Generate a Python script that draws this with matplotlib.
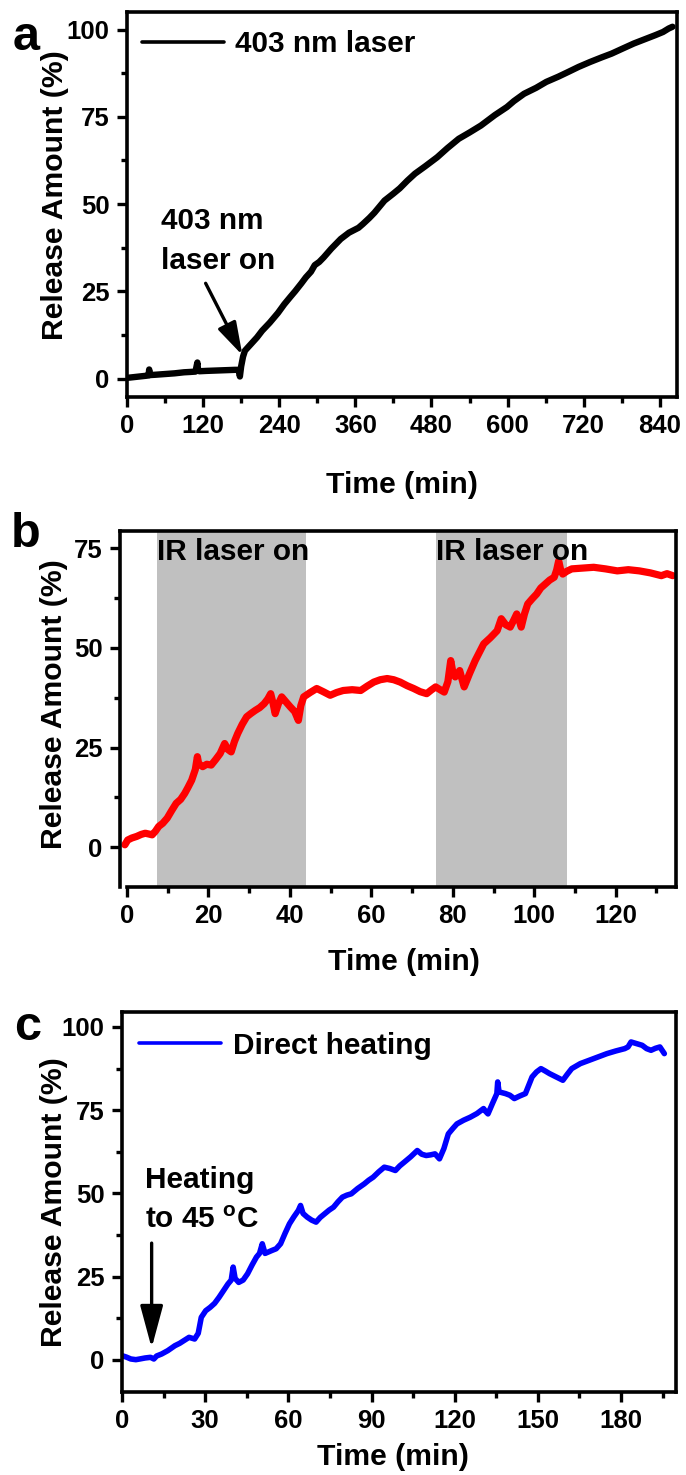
import matplotlib
matplotlib.use("Agg")
import matplotlib.pyplot as plt
from matplotlib.ticker import MultipleLocator

plt.rcParams["font.family"] = ["Liberation Sans", "DejaVu Sans"]
plt.rcParams["font.weight"] = "bold"
plt.rcParams["mathtext.fontset"] = "custom"
plt.rcParams["mathtext.rm"] = "Liberation Sans:bold"
plt.rcParams["mathtext.bf"] = "Liberation Sans:bold"
plt.rcParams["mathtext.it"] = "Liberation Sans:bold"

# ---- (a) 403 nm laser triggered release ----
time_a = [0, 10, 20, 30, 34, 35, 36, 45, 60, 75, 90, 100, 108, 110, 111, 112,
          114, 125, 140, 155, 170, 176, 178, 180, 183, 186, 195, 205, 213, 225,
          238, 248, 258, 265, 275, 282, 290, 296, 303, 310, 322, 337, 350, 365,
          372, 382, 390, 406, 420, 430, 442, 454, 470, 489, 505, 523, 540, 558,
          580, 599, 610, 626, 645, 661, 680, 695, 712, 730, 748, 764, 782, 799,
          816, 833, 845, 854, 860]
release_a = [0.2, 0.4, 0.6, 0.8, 0.9, 2.6, 1.0, 1.1, 1.3, 1.5, 1.8, 1.9, 2.0,
             3.8, 4.6, 2.6, 2.1, 2.2, 2.3, 2.4, 2.5, 2.5, 0.6, 3.5, 6.3, 8.0,
             9.8, 11.8, 13.7, 16.0, 18.8, 21.3, 23.5, 25.0, 27.3, 29.0, 30.6,
             32.5, 33.4, 34.7, 37.2, 40.0, 41.8, 43.2, 44.3, 46.0, 47.5, 51.0,
             53.0, 54.5, 56.7, 58.7, 60.8, 63.4, 66.0, 68.7, 70.5, 72.5, 75.5,
             77.8, 79.5, 81.6, 83.3, 85.0, 86.5, 87.8, 89.3, 90.7, 92.0, 93.1,
             94.6, 96.0, 97.2, 98.4, 99.3, 100.3, 100.8]

# ---- (b) pulsed IR laser release ----
time_b = [-0.5, 0.2, 1.2, 2.4, 3.5, 4.5, 5.4, 6.2, 7.0, 7.8, 8.8, 9.9, 11.0,
          12.1, 13.2, 14.2, 15.0, 15.9, 16.8, 17.3, 17.6, 18.6, 19.6, 20.7,
          21.8, 22.9, 24.0, 24.8, 25.6, 26.4, 27.2, 28.3, 29.4, 30.4, 31.5,
          32.6, 33.7, 34.6, 35.3, 35.9, 36.4, 37.2, 38.0, 39.0, 40.1, 41.2,
          42.1, 42.7, 43.4, 45.0, 46.6, 48.2, 49.9, 51.5, 53.1, 55.3, 57.4,
          59.0, 60.6, 62.2, 63.9, 65.5, 67.1, 68.8, 70.4, 72.0, 73.6, 74.7,
          75.8, 76.9, 77.9, 78.8, 79.5, 80.0, 80.6, 81.2, 81.7, 82.3, 82.8,
          84.1, 85.5, 86.5, 87.6, 89.2, 90.9, 91.9, 93.0, 94.1, 95.0, 95.7,
          96.3, 96.8, 97.6, 98.4, 99.5, 100.6, 101.6, 102.7, 103.8, 104.9,
          105.5, 106.0, 106.5, 107.0, 108.0, 109.2, 111.9, 114.6, 117.5,
          120.4, 123.1, 125.8, 128.5, 131.2, 132.6, 134.0]
release_b = [0.6, 1.8, 2.3, 2.7, 3.2, 3.5, 3.3, 3.1, 4.0, 5.2, 6.0, 7.3, 9.2,
             11.0, 12.0, 13.5, 15.0, 16.8, 19.5, 22.7, 21.0, 20.2, 20.8, 20.6,
             22.0, 23.5, 26.0, 24.5, 23.9, 26.5, 28.5, 30.8, 32.7, 33.5, 34.3,
             35.0, 36.0, 37.2, 38.5, 36.0, 33.5, 36.0, 37.7, 36.5, 35.2, 34.0,
             31.8, 35.5, 37.7, 38.8, 39.8, 39.0, 38.1, 38.8, 39.3, 39.5, 39.3,
             40.4, 41.4, 42.0, 42.3, 42.0, 41.4, 40.5, 39.8, 39.0, 38.5, 39.4,
             40.2, 39.5, 38.9, 41.5, 46.8, 44.0, 42.7, 43.5, 44.3, 42.0, 40.2,
             43.5, 46.8, 48.8, 51.0, 52.5, 54.3, 57.3, 55.8, 55.2, 57.0, 58.5,
             57.0, 55.2, 58.5, 61.0, 62.3, 63.5, 65.0, 66.0, 67.0, 67.7, 69.5,
             71.8, 69.5, 68.5, 69.2, 69.8, 70.0, 70.2, 69.8, 69.3, 69.6, 69.3,
             68.8, 68.1, 68.6, 68.1]

# IR laser irradiation windows (min)
laser_on = [7.5, 76.0]
laser_off = [44.0, 108.0]

# ---- (c) direct heating release ----
time_c = [0, 1.5, 3.2, 5.0, 6.4, 8.3, 10.3, 11.5, 12.5, 14.3, 16.5, 19.1,
          20.8, 22.3, 24.2, 26.2, 27.5, 28.6, 30.2, 31.8, 33.4, 35.0, 36.6,
          38.2, 39.4, 40.1, 40.8, 42.1, 43.7, 45.3, 46.9, 48.5, 49.6, 50.6,
          51.6, 54.1, 55.6, 57.2, 58.8, 60.4, 62.0, 63.6, 64.4, 65.3, 66.8,
          68.4, 70.0, 71.5, 73.1, 74.7, 76.3, 77.9, 79.5, 81.1, 82.7, 85.0,
          87.4, 89.0, 90.6, 92.6, 94.6, 96.6, 98.6, 100.2, 101.8, 104.1,
          106.5, 108.1, 109.7, 111.3, 112.9, 114.5, 116.1, 117.7, 119.3,
          120.8, 123.2, 125.6, 128.0, 130.4, 131.2, 132.0, 133.6, 135.2,
          135.5, 136.0, 138.3, 139.9, 141.5, 143.5, 145.5, 146.7, 147.9,
          149.5, 151.1, 152.6, 154.2, 156.6, 159.0, 160.6, 162.2, 165.3,
          168.5, 171.7, 174.9, 178.1, 181.3, 182.5, 183.6, 185.6, 187.6,
          189.2, 190.8, 192.4, 194.0, 195.6]
release_c = [1.3, 0.9, 0.3, 0.1, 0.3, 0.6, 0.8, 0.3, 1.2, 1.8, 2.8, 4.3, 5.0,
             5.8, 6.8, 6.3, 8.0, 12.8, 14.8, 15.8, 17.0, 18.8, 20.8, 22.8,
             24.0, 27.9, 24.5, 23.3, 24.0, 25.9, 28.5, 30.9, 32.0, 34.9, 32.0,
             32.9, 33.4, 34.9, 38.0, 40.9, 43.0, 44.9, 46.4, 44.0, 42.9, 42.0,
             41.4, 42.8, 43.9, 45.0, 45.9, 47.5, 48.9, 49.5, 49.9, 51.5, 52.9,
             54.0, 54.9, 56.5, 57.9, 57.5, 56.9, 58.3, 59.4, 61.0, 62.9, 61.8,
             61.4, 61.6, 61.9, 60.4, 63.5, 67.9, 69.5, 70.9, 72.0, 72.9, 74.0,
             75.5, 74.6, 73.9, 77.0, 80.0, 83.5, 80.5, 80.0, 79.5, 78.5, 79.3,
             80.0, 82.5, 85.0, 86.5, 87.5, 86.8, 86.0, 85.0, 84.0, 85.8, 87.5,
             89.0, 90.0, 91.0, 92.0, 92.8, 93.5, 94.0, 95.5, 95.0, 94.5, 93.5,
             93.0, 93.6, 94.0, 92.0]

label_x = "Time (min)"
label_y = "Release Amount (%)"

LABEL_FS = 21.7
TEXT_FS = 21.4
TICK_FS = 18.5
SPINE_LW = 2.6

fig = plt.figure(figsize=(6.86, 14.75), dpi=100)

ax_a = fig.add_axes([0.1851, 0.7308, 0.8017, 0.2610])
ax_b = fig.add_axes([0.1749, 0.3986, 0.8105, 0.2414])
ax_c = fig.add_axes([0.1778, 0.0563, 0.8076, 0.2576])


def style_axes(ax, xmajor, xminor, ymajor, yminor):
    for side in ("top", "right", "bottom", "left"):
        ax.spines[side].set_linewidth(SPINE_LW)
    ax.xaxis.set_major_locator(MultipleLocator(xmajor))
    ax.xaxis.set_minor_locator(MultipleLocator(xminor))
    ax.yaxis.set_major_locator(MultipleLocator(ymajor))
    ax.yaxis.set_minor_locator(MultipleLocator(yminor))
    ax.tick_params(which="both", direction="out", top=False, right=False,
                   width=2.4)
    ax.tick_params(which="major", length=7.5, labelsize=TICK_FS, pad=5)
    ax.tick_params(which="minor", length=4)
    for lab in ax.get_xticklabels() + ax.get_yticklabels():
        lab.set_fontweight("bold")
    ax.set_xlabel(label_x, fontsize=LABEL_FS, fontweight="bold")
    ax.set_ylabel(label_y, fontsize=LABEL_FS, fontweight="bold")
    ax.xaxis.label.set_va("center")
    ax.yaxis.label.set_va("center")
    ax.yaxis.label.set_ha("center")


# panel a
ax_a.plot(time_a, release_a, color="black", lw=4.6, solid_joinstyle="round",
          solid_capstyle="round", label="403 nm laser")
ax_a.set_xlim(0, 867)
ax_a.set_ylim(-5.3, 105)
style_axes(ax_a, 120, 60, 25, 12.5)
ax_a.xaxis.set_label_coords(0.5, -0.229)
ax_a.yaxis.set_label_coords(-0.131, 0.525)
leg = ax_a.legend(loc="center left", bbox_to_anchor=(0.027, 0.917),
                  frameon=False, handlelength=2.75, handletextpad=0.4,
                  borderpad=0, borderaxespad=0,
                  prop={"size": TEXT_FS, "weight": "bold"})
leg.get_lines()[0].set_linewidth(2.6)
ax_a.text(53, 31.3, "403 nm\nlaser on", fontsize=TEXT_FS, fontweight="bold",
          ha="left", va="baseline", linespacing=1.55)
ax_a.annotate("", xy=(182, 6.7), xytext=(124, 27.3),
              arrowprops=dict(arrowstyle="-|>,head_length=1.0,head_width=0.3",
                              mutation_scale=20, lw=2.4, color="black",
                              shrinkA=0, shrinkB=0))

# panel b
for t0, t1 in zip(laser_on, laser_off):
    ax_b.axvspan(t0, t1, color="#c0c0c0", lw=0, zorder=0)
    ax_b.text(t0, 72, "IR laser on", fontsize=TEXT_FS, fontweight="bold",
              ha="left", va="baseline", zorder=3)
ax_b.plot(time_b, release_b, color="#ff0000", lw=5.2, solid_joinstyle="round",
          solid_capstyle="round", zorder=2)
ax_b.set_xlim(-1.7, 134.8)
ax_b.set_ylim(-10, 79.3)
style_axes(ax_b, 20, 10, 25, 12.5)
ax_b.spines["bottom"].set_bounds(0, 134.8)
ax_b.xaxis.set_label_coords(0.51, -0.211)
ax_b.yaxis.set_label_coords(-0.119, 0.514)

# panel c
ax_c.plot(time_c, release_c, color="#0000ff", lw=4.0, solid_joinstyle="round",
          solid_capstyle="round", label="Direct heating")
ax_c.set_xlim(0, 199.8)
ax_c.set_ylim(-9.6, 104.5)
style_axes(ax_c, 30, 15, 25, 12.5)
ax_c.xaxis.set_label_coords(0.49, -0.171)
ax_c.yaxis.set_label_coords(-0.123, 0.5)
leg = ax_c.legend(loc="center left", bbox_to_anchor=(0.031, 0.911),
                  frameon=False, handlelength=2.75, handletextpad=0.4,
                  borderpad=0, borderaxespad=0,
                  prop={"size": TEXT_FS, "weight": "bold"})
leg.get_lines()[0].set_linewidth(2.6)
ax_c.text(8.3, 39.6, "Heating\nto 45 $^{\\mathbf{o}}$C", fontsize=TEXT_FS,
          fontweight="bold", ha="left", va="baseline", linespacing=1.55)
ax_c.annotate("", xy=(10.7, 3.6), xytext=(10.7, 35.1),
              arrowprops=dict(arrowstyle="-|>,head_length=1.3,head_width=0.35",
                              mutation_scale=20, lw=2.4, color="black",
                              shrinkA=0, shrinkB=0))

# panel letters
for letter, (px, py) in zip("abc", [(26, 50), (26, 547), (28, 1040)]):
    fig.text(px / 686, 1 - py / 1475, letter, fontsize=35, fontweight="bold",
             ha="center", va="baseline")

fig.savefig("out.png", dpi=100)
